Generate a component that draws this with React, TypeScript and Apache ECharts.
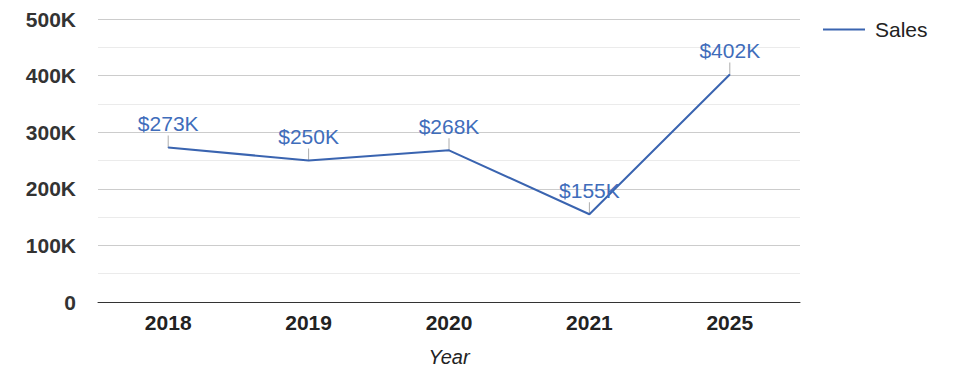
import React, { useEffect, useRef } from "react";
import * as echarts from "echarts";

const categories = ["2018", "2019", "2020", "2021", "2025"];
const sales = [273000, 250000, 268000, 155000, 402000];
const seriesName = "Sales";
const axisName = "Year";

const LINE = "#3a64b0";
const LABEL = "#3f6dbb";

export default function App() {
  const ref = useRef<HTMLDivElement>(null);
  useEffect(() => {
    if (!ref.current) return;
    const chart = echarts.init(ref.current, undefined, { renderer: "svg" });
    chart.setOption({
      animation: false,
      backgroundColor: "#ffffff",
      textStyle: { fontFamily: "Arial, 'Liberation Sans', sans-serif" },
      grid: { left: 98, right: 175, top: 19, bottom: 76, containLabel: false },
      legend: {
        show: true,
        data: [{ name: seriesName, icon: "rect" }],
        left: 823,
        top: 19,
        padding: 0,
        itemWidth: 42,
        itemHeight: 2,
        itemGap: 10,
        textStyle: { fontSize: 21, color: "#222222", padding: [0, 0, 0, 5] },
      },
      xAxis: {
        type: "category",
        data: categories,
        boundaryGap: true,
        axisLine: { show: true, lineStyle: { color: "#333333", width: 1 } },
        axisTick: { show: false },
        axisLabel: { fontSize: 21, fontWeight: "bold", color: "#222222", margin: 10 },
        name: axisName,
        nameLocation: "middle",
        nameGap: 45,
        nameTextStyle: { fontSize: 20, fontStyle: "italic", color: "#222222" },
      },
      yAxis: {
        type: "value",
        min: 0,
        max: 500000,
        interval: 100000,
        axisLine: { show: false },
        axisTick: { show: false },
        axisLabel: {
          fontSize: 21,
          fontWeight: "bold",
          color: "#333333",
          margin: 22,
          formatter: (v: number) => (v === 0 ? "0" : v / 1000 + "K"),
        },
        splitLine: { show: true, lineStyle: { color: "#cccccc", width: 1 } },
        minorTick: { show: false, splitNumber: 2 },
        minorSplitLine: { show: true, lineStyle: { color: "#ebebeb", width: 1 } },
      },
      series: [
        {
          name: seriesName,
          type: "line",
          data: sales,
          symbol: "circle",
          symbolSize: 1,
          showSymbol: true,
          lineStyle: { color: LINE, width: 2 },
          itemStyle: { color: LINE },
          label: {
            show: true,
            position: "top",
            distance: 13,
            fontSize: 21,
            color: LABEL,
            formatter: (p: any) => "$" + Math.round(p.value / 1000) + "K",
          },
          z: 3,
        },
        {
          name: "tick",
          type: "scatter",
          data: sales,
          symbol: "rect",
          symbolSize: [1, 12],
          symbolOffset: [0, -6],
          itemStyle: { color: "#999999" },
          silent: true,
          z: 2,
        },
      ],
    });
    return () => chart.dispose();
  }, []);
  return (
    <div
      ref={ref}
      style={{ position: "fixed", left: 0, top: 0, width: 975, height: 378 }}
    />
  );
}
